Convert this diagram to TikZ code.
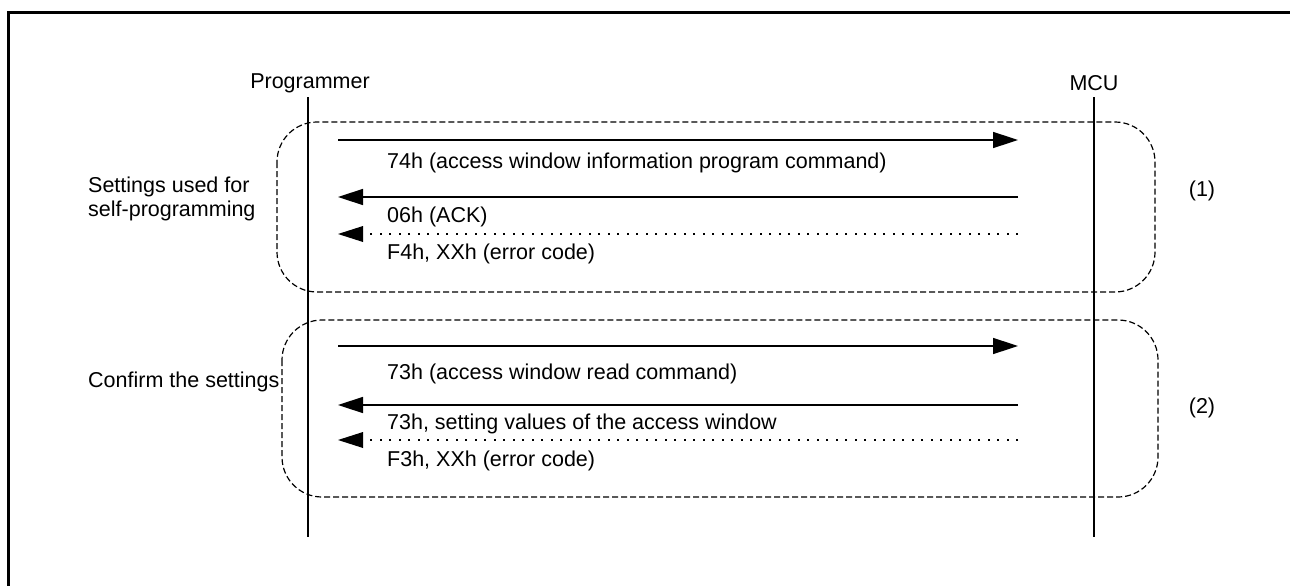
\documentclass[tikz,border=0pt]{standalone}
\usepackage{fontspec}
\setmainfont{Liberation Sans}
\usetikzlibrary{arrows.meta}
\begin{document}
\begin{tikzpicture}[x=1pt,y=-1pt,
  txt/.style={inner sep=0pt,anchor=west,font=\fontsize{21.5}{24}\selectfont},
  ctxt/.style={inner sep=0pt,font=\fontsize{21.5}{24}\selectfont},
  life/.style={line width=1.5pt},
  msg/.style={line width=1.5pt,-{Triangle[length=25pt,width=16pt]}},
  errmsg/.style={line width=2pt,dash pattern=on 2pt off 7.5pt,-{Triangle[length=25pt,width=16pt,line width=0pt]}},
  group/.style={line width=1.2pt,dash pattern=on 6pt off 3pt,rounded corners=40pt},
  frame/.style={line width=3pt}]
\useasboundingbox (0,0) rectangle (1290,586);
% frame (top and left edges)
\draw[frame] (8.5,586) -- (8.5,12.5) -- (1290,12.5);
% lifelines
\node[ctxt] (prog) at (310,83) {Programmer};
\node[ctxt] (mcu) at (1094,83) {MCU};
\coordinate (pt) at (308,97);
\coordinate (pb) at (308,537);
\coordinate (mt) at (1094,97);
\coordinate (mb) at (1094,537);
\draw[life] (pt) -- (pb);
\draw[life] (mt) -- (mb);
% group boxes
\draw[group] (277,122) rectangle (1155,292);
\draw[group] (282,320) rectangle (1158,497);
% arrow endpoints
\foreach \n/\y in {a/140,b/197,c/234,d/346,e/405,f/440}{
  \coordinate (\n L) at (338,\y);
  \coordinate (\n R) at (1018,\y);
}
\draw[msg] (aL) -- (aR);
\draw[msg] (bR) -- (bL);
\draw[errmsg] (cR) -- (cL);
\draw[msg] (dL) -- (dR);
\draw[msg] (eR) -- (eL);
\draw[errmsg] (fR) -- (fL);
% message labels
\node[txt] (la) at (387,163) {74h (access window information program command)};
\node[txt] (lb) at (387,217) {06h (ACK)};
\node[txt] (lc) at (387,254) {F4h, XXh (error code)};
\node[txt] (ld) at (387,374) {73h (access window read command)};
\node[txt] (le) at (387,424) {73h, setting values of the access window};
\node[txt] (lf) at (387,461) {F3h, XXh (error code)};
% side labels
\node[txt,align=left] (s1) at (88,199) {Settings used for\\self-programming};
\node[txt] (s2) at (88,382) {Confirm the settings};
\node[ctxt] (n1) at (1202,191) {(1)};
\node[ctxt] (n2) at (1202,408) {(2)};
\end{tikzpicture}
\end{document}
